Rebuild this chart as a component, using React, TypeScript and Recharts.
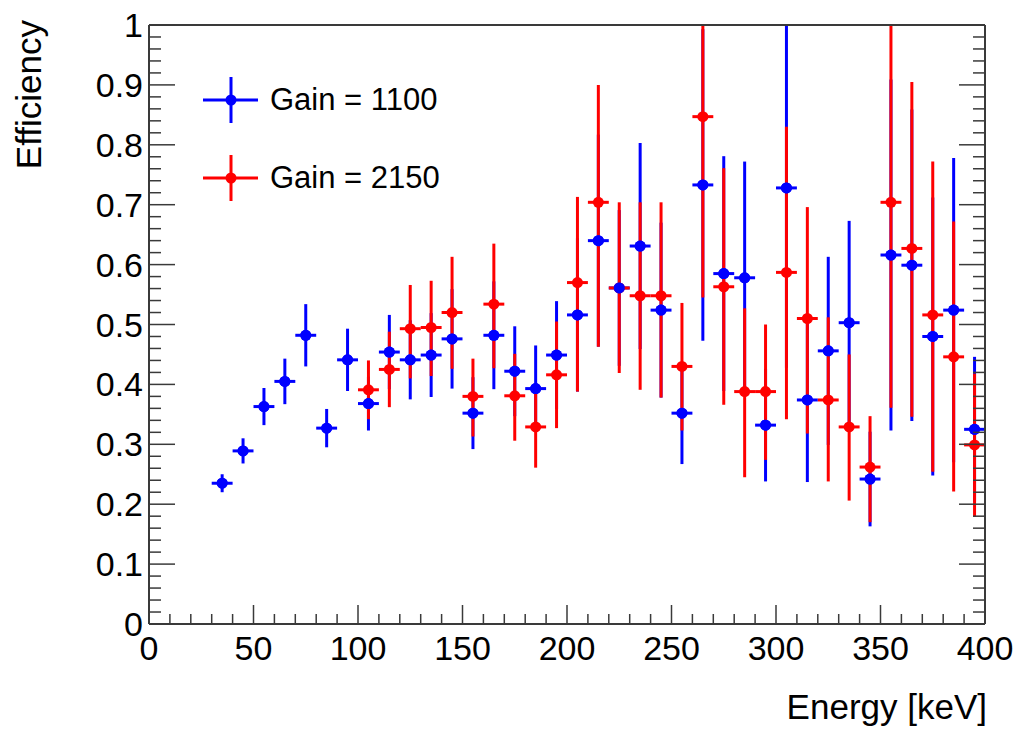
import { ScatterChart, Scatter, XAxis, YAxis, ErrorBar, Legend, Label } from 'recharts'

// Gain = 1100 (blue)
const blueEnergy = [35, 45, 55, 65, 75, 85, 95, 105, 115, 125, 135, 145, 155, 165, 175, 185, 195, 205, 215, 225, 235, 245, 255, 265, 275, 285, 295, 305, 315, 325, 335, 345, 355, 365, 375, 385, 395]
const blueEff = [0.235, 0.289, 0.363, 0.405, 0.482, 0.327, 0.441, 0.368, 0.454, 0.441, 0.449, 0.476, 0.352, 0.482, 0.422, 0.393, 0.449, 0.516, 0.64, 0.561, 0.631, 0.524, 0.352, 0.733, 0.585, 0.578, 0.332, 0.728, 0.374, 0.456, 0.503, 0.242, 0.616, 0.599, 0.48, 0.524, 0.325]
const blueErr = [0.015, 0.021, 0.031, 0.038, 0.052, 0.032, 0.052, 0.045, 0.062, 0.066, 0.07, 0.083, 0.06, 0.09, 0.075, 0.072, 0.09, 0.128, 0.177, 0.13, 0.172, 0.146, 0.085, 0.26, 0.196, 0.194, 0.094, 0.3, 0.137, 0.157, 0.17, 0.079, 0.293, 0.26, 0.232, 0.254, 0.121]

// Gain = 2150 (red)
const redEnergy = [105, 115, 125, 135, 145, 155, 165, 175, 185, 195, 205, 215, 225, 235, 245, 255, 265, 275, 285, 295, 305, 315, 325, 335, 345, 355, 365, 375, 385, 395]
const redEff = [0.391, 0.425, 0.493, 0.495, 0.52, 0.38, 0.534, 0.381, 0.329, 0.416, 0.57, 0.704, 0.561, 0.548, 0.548, 0.43, 0.847, 0.563, 0.388, 0.388, 0.587, 0.51, 0.374, 0.329, 0.262, 0.704, 0.627, 0.516, 0.446, 0.299]
const redErrDown = [0.049, 0.063, 0.083, 0.081, 0.094, 0.067, 0.107, 0.075, 0.068, 0.089, 0.182, 0.241, 0.142, 0.157, 0.17, 0.107, 0.302, 0.197, 0.143, 0.114, 0.245, 0.192, 0.136, 0.123, 0.092, 0.343, 0.281, 0.262, 0.225, 0.12]
const redErrUp = [0.049, 0.063, 0.073, 0.078, 0.093, 0.063, 0.101, 0.07, 0.061, 0.089, 0.143, 0.196, 0.143, 0.156, 0.156, 0.106, 0.2, 0.198, 0.139, 0.112, 0.243, 0.186, 0.138, 0.121, 0.085, 0.35, 0.278, 0.256, 0.226, 0.119]

const binHalfWidth = 5

const xTicks = Array.from({ length: 41 }, (_, i) => i * 10)
const yTicks = Array.from({ length: 51 }, (_, i) => Math.round(i * 2) / 100)

const FONT = '"Liberation Sans", Arial, Helvetica, sans-serif'
const AXIS = '#3a3a3a'
const BLUE = '#0000ff'
const RED = '#ff0000'

// efficiency can't go above 1, so the frame cuts the bars there
const upTo1 = (v: number, up: number) => Math.min(up, 1 - v)

const blueData = blueEnergy.map((e, i) => ({
  x: e,
  y: blueEff[i],
  ex: binHalfWidth,
  ey: [blueErr[i], upTo1(blueEff[i], blueErr[i])],
}))
const redData = redEnergy.map((e, i) => ({
  x: e,
  y: redEff[i],
  ex: binHalfWidth,
  ey: [redErrDown[i], upTo1(redEff[i], redErrUp[i])],
}))

const isMajorY = (v: number) => Math.abs(v * 10 - Math.round(v * 10)) < 1e-6

const BottomTick = ({ x, y, payload }: any) => {
  const v = payload.value
  const major = v % 50 === 0
  return (
    <g>
      <line x1={x} x2={x} y1={y} y2={y - (major ? 19 : 10)} stroke={AXIS} strokeWidth={1.5} />
      {major && (
        <text x={x} y={y + 36} textAnchor="middle" fontSize={34} fontFamily={FONT} fill="#000">
          {v}
        </text>
      )}
    </g>
  )
}

const TopTick = ({ x, y, payload }: any) => {
  const major = payload.value % 50 === 0
  return <line x1={x} x2={x} y1={y} y2={y + (major ? 19 : 10)} stroke={AXIS} strokeWidth={1.5} />
}

const LeftTick = ({ x, y, payload }: any) => {
  const v = payload.value
  const major = isMajorY(v)
  return (
    <g>
      <line x1={x} x2={x + (major ? 26 : 12)} y1={y} y2={y} stroke={AXIS} strokeWidth={1.5} />
      {major && (
        <text x={x - 6} y={y + 12} textAnchor="end" fontSize={34} fontFamily={FONT} fill="#000">
          {Math.round(v * 10) / 10}
        </text>
      )}
    </g>
  )
}

const RightTick = ({ x, y, payload }: any) => {
  const major = isMajorY(payload.value)
  return <line x1={x} x2={x - (major ? 26 : 12)} y1={y} y2={y} stroke={AXIS} strokeWidth={1.5} />
}

const dot = (color: string) => (props: any) => <circle cx={props.cx} cy={props.cy} r={5.5} fill={color} />

const renderLegend = (props: any) => (
  <div style={{ display: 'flex', flexDirection: 'column', gap: 28 }}>
    {(props.payload || [])
      .filter((p: any) => p.type !== 'none' && p.value !== 'blue markers')
      .map((p: any) => (
        <div key={p.value} style={{ display: 'flex', alignItems: 'center', height: 50 }}>
          <svg width={58} height={50}>
            <line x1={3} x2={58} y1={25} y2={25} stroke={p.color} strokeWidth={3} />
            <line x1={31} x2={31} y1={2} y2={48} stroke={p.color} strokeWidth={3} />
            <circle cx={31} cy={25} r={5.5} fill={p.color} />
          </svg>
          <span style={{ marginLeft: 12, fontSize: 31, fontFamily: FONT, color: '#000' }}>{p.value}</span>
        </div>
      ))}
  </div>
)

export default function App() {
  return (
    <div style={{ position: 'absolute', left: 0, top: 0, background: '#fff' }}>
      <ScatterChart width={1025} height={730} margin={{ top: 0, right: 0, bottom: 0, left: 0 }}>
        <XAxis
          dataKey="x"
          type="number"
          domain={[0, 400]}
          ticks={xTicks}
          interval={0}
          allowDataOverflow
          height={106}
          tickSize={0}
          tickMargin={0}
          tickLine={false}
          axisLine={{ stroke: AXIS, strokeWidth: 2 }}
          tick={<BottomTick />}
        >
          <Label
            content={() => (
              <text x={987} y={719} textAnchor="end" fontSize={35} fontFamily={FONT} fill="#000">
                Energy [keV]
              </text>
            )}
          />
        </XAxis>
        <XAxis
          xAxisId="top"
          orientation="top"
          type="number"
          domain={[0, 400]}
          ticks={xTicks}
          interval={0}
          allowDataOverflow
          height={25}
          tickSize={0}
          tickMargin={0}
          tickLine={false}
          axisLine={{ stroke: AXIS, strokeWidth: 2 }}
          tick={<TopTick />}
        />
        <YAxis
          dataKey="y"
          type="number"
          domain={[0, 1]}
          ticks={yTicks}
          interval={0}
          allowDataOverflow
          width={149}
          tickSize={0}
          tickMargin={0}
          tickLine={false}
          axisLine={{ stroke: AXIS, strokeWidth: 2 }}
          tick={<LeftTick />}
        >
          <Label
            content={() => (
              <text
                transform="translate(41,20) rotate(-90)"
                textAnchor="end"
                fontSize={35}
                fontFamily={FONT}
                fill="#000"
              >
                Efficiency
              </text>
            )}
          />
        </YAxis>
        <YAxis
          yAxisId="right"
          orientation="right"
          type="number"
          domain={[0, 1]}
          ticks={yTicks}
          interval={0}
          allowDataOverflow
          width={40}
          tickSize={0}
          tickMargin={0}
          tickLine={false}
          axisLine={{ stroke: AXIS, strokeWidth: 2 }}
          tick={<RightTick />}
        />
        <Legend
          layout="horizontal"
          verticalAlign="middle"
          align="center"
          wrapperStyle={{ top: 75, left: 200, width: 'auto' }}
          content={renderLegend}
        />
        <Scatter name="Gain = 1100" data={blueData} dataKey="y" fill={BLUE} shape={dot(BLUE)} isAnimationActive={false}>
          <ErrorBar dataKey="ey" direction="y" width={0} stroke={BLUE} strokeWidth={3} isAnimationActive={false} />
          <ErrorBar dataKey="ex" direction="x" width={0} stroke={BLUE} strokeWidth={3} isAnimationActive={false} />
        </Scatter>
        <Scatter name="Gain = 2150" data={redData} dataKey="y" fill={RED} shape={dot(RED)} isAnimationActive={false}>
          <ErrorBar dataKey="ey" direction="y" width={0} stroke={RED} strokeWidth={3} isAnimationActive={false} />
          <ErrorBar dataKey="ex" direction="x" width={0} stroke={RED} strokeWidth={3} isAnimationActive={false} />
        </Scatter>
        <Scatter
          name="blue markers"
          data={blueData}
          dataKey="y"
          fill={BLUE}
          shape={dot(BLUE)}
          legendType="none"
          isAnimationActive={false}
        />
      </ScatterChart>
    </div>
  )
}
